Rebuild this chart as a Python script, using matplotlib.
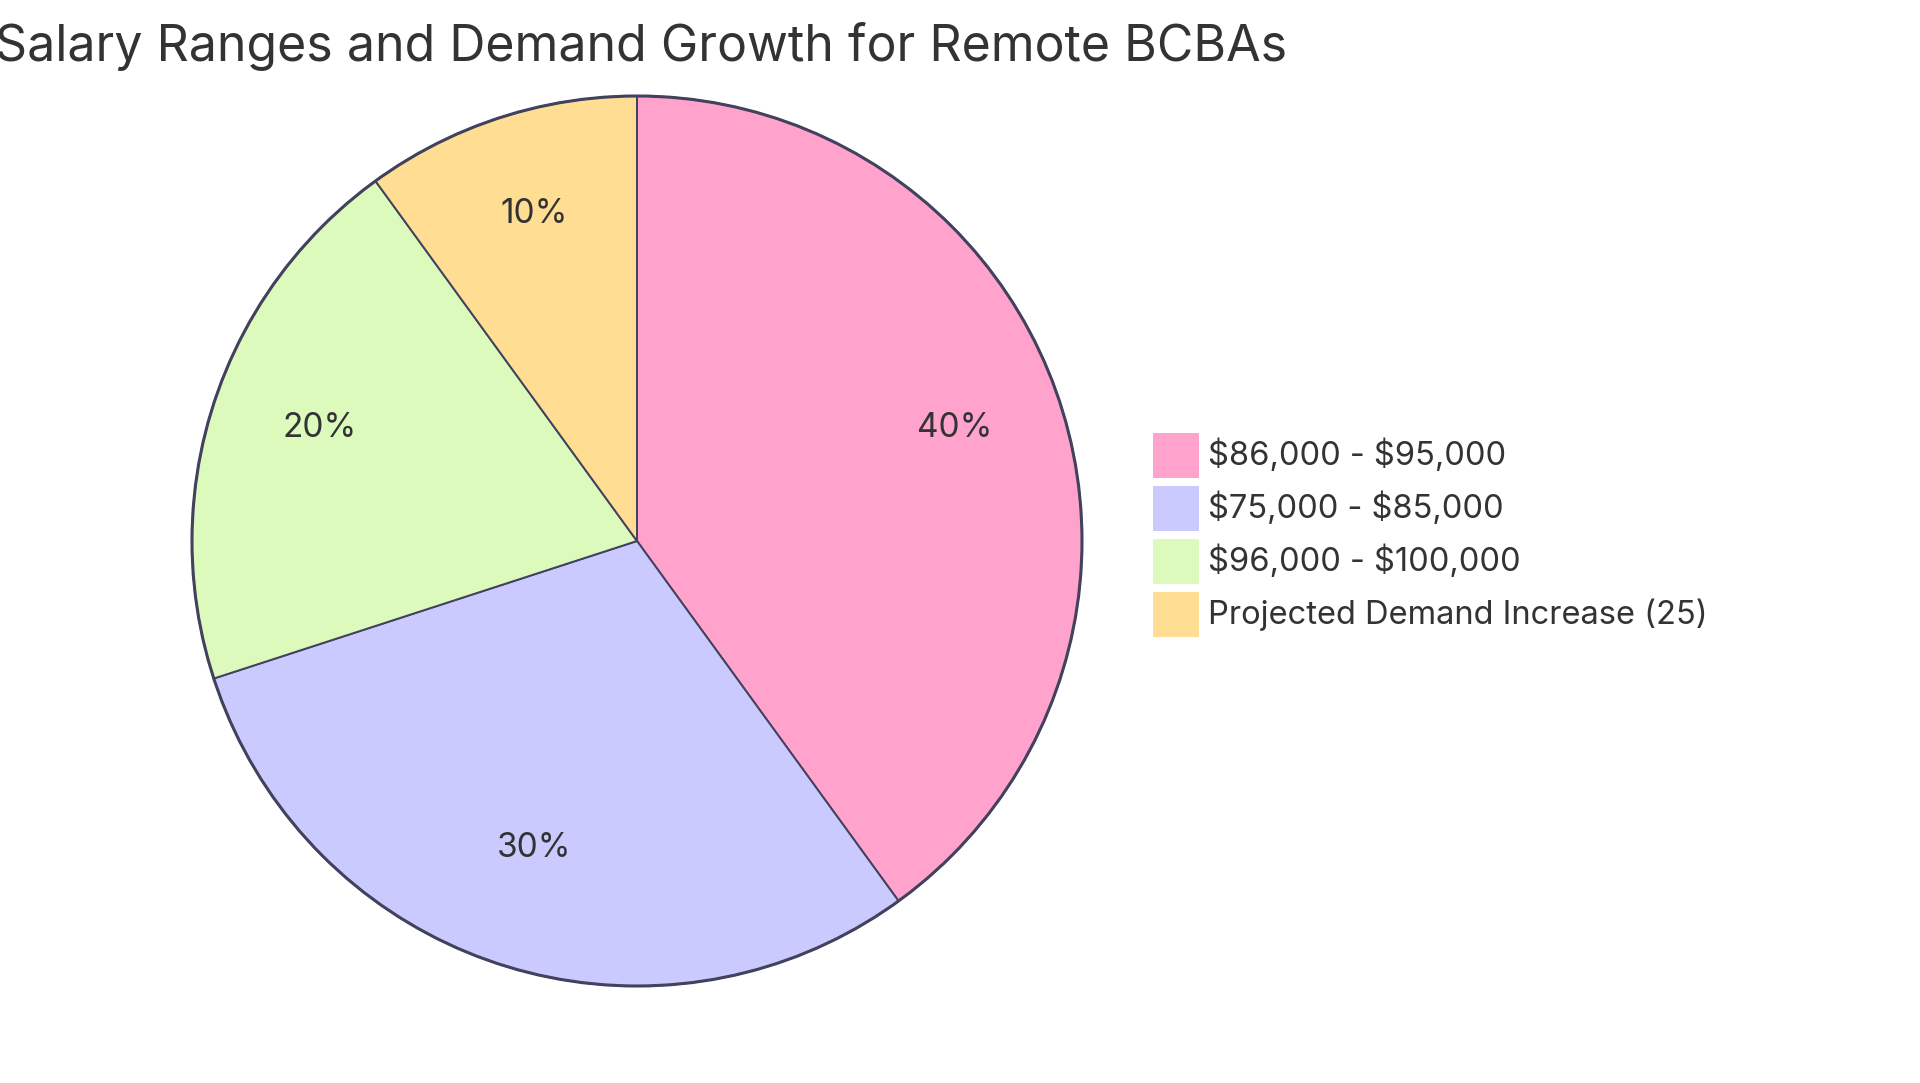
import matplotlib.pyplot as plt
from matplotlib.patches import Rectangle, Circle

plt.rcParams['font.family'] = ['Inter', 'DejaVu Sans']
plt.rcParams['text.parse_math'] = False  # 避免 $ 被当作公式

# 数据
labels = ['$86,000 - $95,000', '$75,000 - $85,000', '$96,000 - $100,000',
          'Projected Demand Increase (25)']
values = [40, 30, 20, 10]
colors = ['#FFA3CD', '#CACAFF', '#DCFABC', '#FFDE94']

W, H = 1920, 1083
cx, cy, r = 637, 541, 445
edge = '#42425E'
text_color = '#333333'

fig = plt.figure(figsize=(W / 100, H / 100), dpi=100)
pad = 1.02
ax = fig.add_axes([(cx - r * pad) / W, (H - cy - r * pad) / H, 2 * r * pad / W, 2 * r * pad / H])

wedges, _, autotexts = ax.pie(values, colors=colors, startangle=90, counterclock=False,
                              autopct='%1.0f%%', pctdistance=0.75, radius=1,
                              wedgeprops=dict(edgecolor=edge, linewidth=1.4),
                              textprops=dict(color=text_color, fontsize=24))
for t in autotexts:
    x, y = t.get_position()
    t.set_position((x, y + 10 / r))
ax.add_patch(Circle((0, 0), 1, fill=False, edgecolor=edge, linewidth=2.2))
ax.set_xlim(-pad, pad)
ax.set_ylim(-pad, pad)
ax.axis('off')

# 标题
fig.text(641 / W, 1 - 61 / H, 'Salary Ranges and Demand Growth for Remote BCBAs',
         ha='center', va='baseline', fontsize=36, color=text_color)

# 图例（手动绘制）
box_w, box_h, step = 46, 45, 53
for i, (lab, col) in enumerate(zip(labels, colors)):
    top = 433 + i * step
    fig.add_artist(Rectangle((1153 / W, 1 - (top + box_h) / H), box_w / W, box_h / H,
                             transform=fig.transFigure, facecolor=col, edgecolor='none'))
    fig.text(1208 / W, 1 - (top + box_h / 2) / H, lab, ha='left', va='center',
             fontsize=23.5, color=text_color)

fig.savefig('out.png', dpi=100)
